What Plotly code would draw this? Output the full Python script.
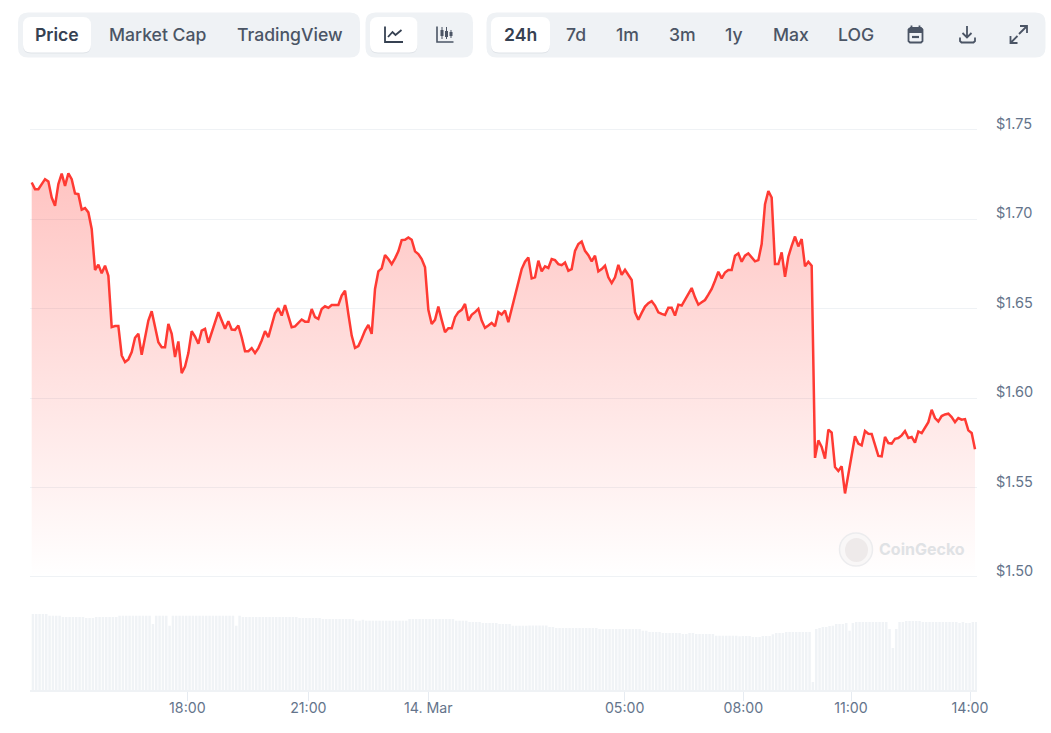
import plotly.graph_objects as go

# ---- data ----
price = [
1.7206,1.7169,1.7169,1.7200,1.7225,1.7212,1.7122,1.7076,1.7197,1.7256,1.7187,1.7258,1.7225,1.7145,1.7141,
1.7054,1.7063,1.7039,1.6946,1.6717,1.6747,1.6698,1.6741,1.6685,1.6397,1.6403,1.6403,1.6239,1.6202,1.6217,
1.6258,1.6338,1.6360,1.6243,1.6341,1.6434,1.6486,1.6406,1.6313,1.6285,1.6285,1.6415,1.6360,1.6230,1.6317,
1.6140,1.6177,1.6252,1.6375,1.6345,1.6304,1.6378,1.6388,1.6310,1.6369,1.6425,1.6481,1.6434,1.6388,1.6430,
1.6384,1.6382,1.6406,1.6341,1.6263,1.6263,1.6280,1.6252,1.6280,1.6323,1.6375,1.6341,1.6406,1.6475,1.6503,
1.6462,1.6521,1.6462,1.6397,1.6401,1.6419,1.6440,1.6428,1.6428,1.6499,1.6453,1.6443,1.6499,1.6514,1.6505,
1.6521,1.6521,1.6521,1.6574,1.6601,1.6471,1.6350,1.6281,1.6291,1.6332,1.6378,1.6410,1.6360,1.6611,1.6709,
1.6726,1.6800,1.6778,1.6750,1.6782,1.6821,1.6884,1.6886,1.6899,1.6886,1.6821,1.6806,1.6778,1.6732,1.6494,
1.6415,1.6438,1.6512,1.6438,1.6369,1.6391,1.6391,1.6453,1.6481,1.6494,1.6527,1.6434,1.6466,1.6481,1.6499,
1.6434,1.6393,1.6406,1.6421,1.6402,1.6481,1.6468,1.6490,1.6425,1.6499,1.6568,1.6648,1.6722,1.6763,1.6787,
1.6670,1.6676,1.6769,1.6709,1.6737,1.6728,1.6778,1.6772,1.6750,1.6744,1.6759,1.6713,1.6722,1.6824,1.6862,
1.6876,1.6824,1.6800,1.6765,1.6797,1.6709,1.6722,1.6741,1.6676,1.6644,1.6676,1.6746,1.6690,1.6718,1.6690,
1.6661,1.6480,1.6439,1.6477,1.6512,1.6531,1.6542,1.6518,1.6480,1.6471,1.6465,1.6506,1.6506,1.6462,1.6523,
1.6518,1.6549,1.6579,1.6616,1.6564,1.6523,1.6536,1.6549,1.6579,1.6611,1.6657,1.6707,1.6670,1.6703,1.6717,
1.6717,1.6797,1.6810,1.6763,1.6797,1.6810,1.6784,1.6765,1.6772,1.6862,1.7085,1.7159,1.7122,1.6750,1.6750,
1.6815,1.6679,1.6791,1.6852,1.6904,1.6849,1.6890,1.6737,1.6763,1.6741,
1.5666,1.5764,1.5727,1.5662,1.5824,1.5807,1.5615,1.5593,1.5619,1.5467,1.5569,1.5680,1.5787,1.5746,1.5736,
1.5816,1.5801,1.5800,1.5736,1.5677,1.5675,1.5783,1.5749,1.5746,1.5773,1.5777,1.5792,1.5816,1.5777,1.5783,
1.5751,1.5814,1.5805,1.5835,1.5866,1.5935,1.5889,1.5870,1.5900,1.5909,1.5913,1.5894,1.5866,1.5889,1.5880,
1.5883,1.5820,1.5805,1.5714,
]
volume = [
76,76,76,76,76,74.3,74.3,74.3,74.3,73,73,73,73,73,73,73,72,72,72,73,73,73,73,73,73,73,
74.3,74.3,74.3,74.3,74.3,74.3,74.3,74.3,74.3,74.3,66,74.3,74.3,74.3,74.3,64.3,
74.3,74.3,74.3,74.3,74.3,74.3,74.3,74.3,74.3,74.3,74.3,74.3,74.3,74.3,74.3,74.3,74.3,74.3,74.3,64.3,74.3,
73,73,73,73,73,73,73,73,73,73,73,73,73,73,73,73,73,
72,72,72,72,72,72,72,71,71,71,71,71,71,71,71,71,71,69.3,69.3,70.3,
69.3,69.3,69.3,69.3,69.3,69.3,69.3,69.3,69.3,69.3,69.3,69.3,69.3,
71,71,71,71,71,71,71,71,71,71,71,71,71,71,69.3,69.3,69.3,69.3,68,68,68,68,67,67,67,67,67,
66,66,66,66,64.3,64.3,64.3,64.3,64.3,64.5,64.5,64.5,64.5,64.5,64.5,63,63,
62,62,62,62,62,62,62,62,62,62,62,62,62,61,61,61,61,61,61,61,61,61,61,61,61,61,
59.3,59.3,58,58,58,58,57,57,57,57,57,57,56,56,57,57,56,56,56,56,56,56,
54.3,54.3,54.3,54.3,54.3,54.3,54.3,53.7,54,54,54,53,53,53,54,54,54,55.7,57,57,57,
58,58,58,58,58,58,58,58,8,61,62,63,63,64,64.3,66,66,66,67,59.3,67,
68,68,68,68,68,68,68,68,68,68,61,42,61,68,68,69,69,69,69,69,
68,68,68,68,68,68,68,68,68,68,68,67,68,67,67,68,68,
]
y_ticks = [1.50, 1.55, 1.60, 1.65, 1.70, 1.75]
y_tick_labels = ["$1.50", "$1.55", "$1.60", "$1.65", "$1.70", "$1.75"]
x_tick_samples = [46.7, 83, 119, 177.9, 213.5, 245.8, 281.5]
x_tick_labels = ["18:00", "21:00", "14. Mar", "05:00", "08:00", "11:00", "14:00"]
tabs_dark = [("Price", 57), ("24h", 520)]
tabs = [("Market Cap", 157.5), ("TradingView", 289.5), ("7d", 576), ("1m", 627),
        ("3m", 682), ("1y", 734), ("Max", 790.5), ("LOG", 856)]

samples = list(range(len(price)))

# ---- page geometry helpers ----
W, H = 1051, 733
L, R, T, B = 30, 977, 128, 690
MAIN_BOTTOM = 579.3
def X(p): return (p - L) / (R - L)
def Y(p): return (B - p) / (B - T)
def path(*polys):
    return " ".join("M" + " L".join(f"{X(a):.5f} {Y(b):.5f}" for a, b in poly) for poly in polys)
def rrect(x0, y0, x1, y1, r):
    c = lambda a, b: f"{X(a):.5f} {Y(b):.5f}"
    return (f"M{c(x0+r,y0)} L{c(x1-r,y0)} Q{c(x1,y0)} {c(x1,y0+r)} L{c(x1,y1-r)} Q{c(x1,y1)} {c(x1-r,y1)} "
            f"L{c(x0+r,y1)} Q{c(x0,y1)} {c(x0,y1-r)} L{c(x0,y0+r)} Q{c(x0,y0)} {c(x0+r,y0)} Z")

BG = "#eff2f5"
DARK = "#364152"
MID = "#4b5565"
AXT = "#64748b"
FONT = "Inter"

shapes = []
def box(x0, y0, x1, y1, r, fill):
    shapes.append(dict(type="path", path=rrect(x0, y0, x1, y1, r), xref="paper", yref="paper",
                       fillcolor=fill, line=dict(width=0), layer="above"))
def stroke(*polys, color=MID, w=1.8):
    shapes.append(dict(type="path", path=path(*polys), xref="paper", yref="paper",
                       line=dict(color=color, width=w), layer="above"))

for c in [(18, 12.5, 360, 57.5), (365.5, 12.5, 473, 57.5), (486.5, 12.5, 1045.5, 57.5)]:
    box(*c, 10, BG)
for s in [(23, 17, 91, 52.5), (370, 17, 417.5, 52.5), (491, 17, 550, 52.5)]:
    box(s[0], s[1] + 1, s[2], s[3] + 1, 8, "#dfe3e8")
    box(*s, 8, "#ffffff")

# line-chart icon
stroke([(385, 26.5), (385, 42), (403, 42)], [(388, 37), (392.5, 32), (395.5, 35), (401.5, 30)], color=DARK)
# candlestick icon
stroke([(437, 26.5), (437, 42), (453.5, 42)], w=1.6)
stroke([(442, 27), (442, 39)], [(446.5, 27), (446.5, 39)], [(451, 30), (451, 38)], w=1)
stroke([(442, 30), (442, 36)], [(446.5, 31), (446.5, 37)], [(451, 32), (451, 36)], w=3)
# calendar
box(908.5, 28, 923, 31.5, 1.5, MID)
stroke([(910, 28), (921, 28), (922.5, 29.5), (922.5, 41), (921, 42.5), (910, 42.5), (908.5, 41), (908.5, 29.5), (910, 28)],
       [(908.5, 32), (922.5, 32)], [(911.5, 25.5), (911.5, 28)], [(919.5, 25.5), (919.5, 28)], w=1.8)
stroke([(912, 37), (919, 37)], w=2.2)
# download
stroke([(967, 26), (967, 37)], [(962.5, 33), (967, 37.5), (971.5, 33)],
       [(960, 37.5), (960, 41), (961.5, 42.5), (973.5, 42.5), (975, 41), (975, 37.5)])
# expand
stroke([(1020, 26), (1027, 26), (1027, 33)], [(1027, 26), (1019, 34)],
       [(1010.5, 36), (1010.5, 43), (1017.5, 43)], [(1010.5, 43), (1017.5, 36)])

# watermark
shapes.append(dict(type="circle", xref="paper", yref="paper", x0=X(839.5), x1=X(872.5), y0=Y(566), y1=Y(533),
                   fillcolor="#f9f7f7", line=dict(color="#ececee", width=1.5), layer="above"))
shapes.append(dict(type="circle", xref="paper", yref="paper", x0=X(845), x1=X(868), y0=Y(562), y1=Y(538),
                   fillcolor="#eeeaea", line=dict(width=0), layer="above"))

annotations = []
def label(text, px, py, size, color, weight, anchor="center"):
    annotations.append(dict(text=text, x=X(px), y=Y(py), xref="paper", yref="paper", showarrow=False,
                            xanchor=anchor, yanchor="middle", align="center",
                            font=dict(family=FONT, size=size, color=color, weight=weight)))
for t, px in tabs_dark:
    label(t, px, 34.5, 17.6, DARK, 600)
for t, px in tabs:
    label(t, px, 34.5, 17.6, MID, 500)
label("CoinGecko", 921.5, 549, 16, "#e0e2e5", 700)

fig = go.Figure()
fig.add_bar(x=samples, y=volume, yaxis="y2", width=0.74, offset=0,
            marker=dict(color="#f0f3f6", line=dict(width=0)), hoverinfo="skip")
fig.add_scatter(x=samples, y=price, mode="lines", line=dict(color="#ff3a33", width=2.5),
                fill="tozeroy",
                fillgradient=dict(type="vertical", start=1.50, stop=1.726,
                                  colorscale=[[0, "rgba(255,58,51,0)"], [1, "rgba(255,58,51,0.3)"]]),
                hoverinfo="skip")

fig.update_layout(
    width=W, height=H, showlegend=False, paper_bgcolor="white", plot_bgcolor="white",
    margin=dict(l=L, r=W - R, t=T, b=H - B),
    font=dict(family=FONT, size=14, color=AXT),
    shapes=shapes, annotations=annotations,
    xaxis=dict(range=[-0.51, 283.6], anchor="y2", tickmode="array", tickvals=x_tick_samples,
               ticktext=x_tick_labels, ticks="outside", ticklen=9, tickcolor="#e6ebf1", tickwidth=1,
               ticklabelstandoff=-5,
               showgrid=False, zeroline=False, showline=True, linecolor=BG, linewidth=2,
               tickfont=dict(family=FONT, size=14.2, color=AXT)),
    yaxis=dict(domain=[(B - MAIN_BOTTOM) / (B - T), 1], range=[1.4987, 1.7511], side="right", tickmode="array",
               tickvals=y_ticks, ticktext=y_tick_labels, gridcolor=BG, gridwidth=1, zeroline=False,
               ticks="", ticklabelstandoff=18, ticklabelshift=-6,
               tickfont=dict(family=FONT, size=14.5, color=AXT)),
    yaxis2=dict(domain=[0, 80 / (B - T)], range=[0, 80], showticklabels=False, showgrid=False,
                zeroline=False, ticks=""),
)

fig.write_html("out.html", config=dict(displayModeBar=False),
               post_script="document.body.style.margin='0';document.documentElement.style.overflow='hidden';")
